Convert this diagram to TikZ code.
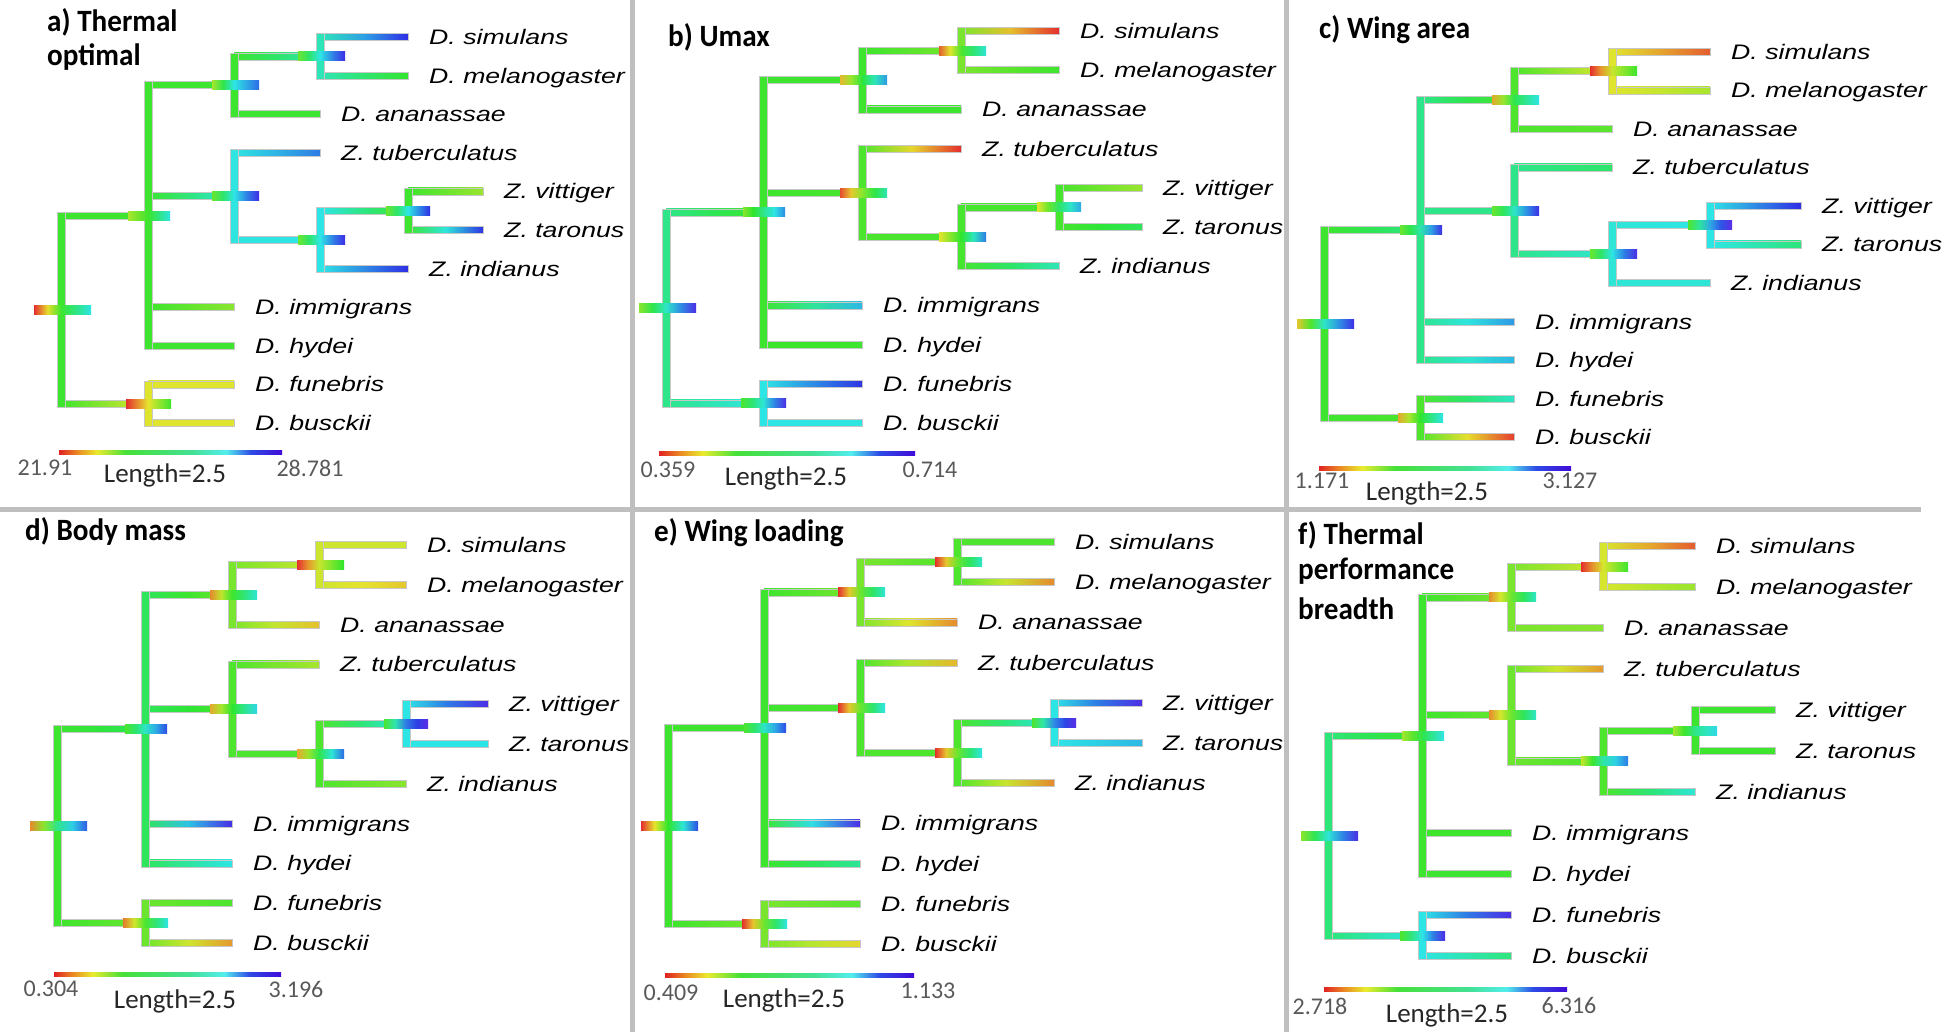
\documentclass[tikz,border=0pt]{standalone}
\usepackage{fontspec}
\usetikzlibrary{calc}
\selectcolormodel{rgb}
\newfontfamily\taxonfont[FakeStretch=1.27]{Liberation Sans}
\newfontfamily\labelfont{Carlito}
\newfontfamily\titlefont[FakeStretch=0.94]{Carlito}

% jet colours of the scale bars
\definecolor{j0}{hsb}{0,.85,.88}
\definecolor{j30}{hsb}{.083,.85,.92}
\definecolor{j60}{hsb}{.167,.8,.92}
\definecolor{j115}{hsb}{.32,.75,.88}
\definecolor{j150}{hsb}{.42,.7,.88}
\definecolor{j180}{hsb}{.5,.65,.93}
\definecolor{j230}{hsb}{.64,.8,.9}
\definecolor{j255}{hsb}{.71,.95,.85}
\pgfdeclarehorizontalshading{jet}{100bp}{color(0bp)=(j0); color(25bp)=(j0); color(29bp)=(j30); color(33.5bp)=(j60); color(40bp)=(j115); color(55bp)=(j150); color(62.5bp)=(j180); color(68bp)=(j230); color(75bp)=(j255); color(100bp)=(j255)}

\tikzset{
  branch/.style={draw=black!22, line width=0.5pt},
  cibar/.style={},
  sep/.style={draw=black!25, line width=5pt},
  scalebar/.style={shading=jet},
  taxon/.style={anchor=base west, inner sep=0pt, font=\taxonfont\itshape\fontsize{21}{25}\selectfont},
  paneltitle/.style={anchor=base west, inner sep=0pt, font=\titlefont\bfseries\fontsize{31}{36}\selectfont},
  scaleno/.style={inner sep=0pt, text=black!65, font=\labelfont\fontsize{24}{28}\selectfont},
  scalelen/.style={inner sep=0pt, text=black!85, font=\labelfont\fontsize{27}{30}\selectfont}
}

% rectangle shaded from hue #2 to hue #3 (degrees) through the middle hue
\newcommand{\hueshade}[5][branch]{%
  \pgfmathsetmacro\hueL{#2}\pgfmathsetmacro\hueR{#3}%
  \pgfmathsetmacro\hueL{\hueL/360}\pgfmathsetmacro\hueR{\hueR/360}%
  \pgfmathsetmacro\hueM{(\hueL+\hueR)/2}%
  \definecolor{hueL}{hsb}{\hueL,.8,.9}\definecolor{hueM}{hsb}{\hueM,.8,.9}\definecolor{hueR}{hsb}{\hueR,.8,.9}%
  \shade[#1, left color=hueL, right color=hueR, middle color=hueM] #4 rectangle #5;}
% horizontal branch from parent #1 to child #2
\newcommand{\hbranch}[4]{%
  \hueshade{#3}{#4}{($(#1 |- #2)+(0,-3.5)$)}{($(#2)+(0,3.5)$)}}
% vertical bar of node #1 between children #2 and #3
\newcommand{\vbranch}[4]{%
  \pgfmathsetmacro\hueL{#4}\pgfmathsetmacro\hueL{\hueL/360}\definecolor{hueL}{hsb}{\hueL,.8,.9}%
  \filldraw[branch, fill=hueL] ($(#1 |- #2)+(-4,-3.5)$) rectangle ($(#1 |- #3)+(4,3.5)$);}
% interval bar on a node
\newcommand{\cimark}[6]{%
  \hueshade[cibar]{#2}{#3}{($(#1)+(-#5,-4.5)$)}{($(#1)+(0,4.5)$)}
  \hueshade[cibar]{#3}{#4}{($(#1)+(0,-4.5)$)}{($(#1)+(#6,4.5)$)}}

% one tree; uses \lv (x levels), \yo, \dy (tips), \nodeh, \tiph, \markh (hues)
\newcommand{\phylo}[1]{%
  \foreach \tp/\lev [count=\i from 0] in {sim/4,mel/4,ana/3,tub/3,vit/5,tar/5,ind/4,imm/2,hyd/2,fun/2,bus/2}
    {\pgfmathsetmacro\xt{\lv[\lev]}\coordinate (#1-\tp) at (\xt,{\yo+\i*\dy});}
  \pgfmathsetmacro\xa{\lv[0]}\pgfmathsetmacro\xb{\lv[1]}\pgfmathsetmacro\xc{\lv[2]}
  \pgfmathsetmacro\xd{\lv[3]}\pgfmathsetmacro\xe{\lv[4]}
  \coordinate (#1-S) at (\xd,{\yo+0.5*\dy});
  \coordinate (#1-M) at (\xc,{\yo+1.25*\dy});
  \coordinate (#1-V) at (\xe,{\yo+4.5*\dy});
  \coordinate (#1-U) at (\xd,{\yo+5.25*\dy});
  \coordinate (#1-Z) at (\xc,{\yo+4.125*\dy});
  \coordinate (#1-B) at (\xb,{\yo+4.625*\dy});
  \coordinate (#1-F) at (\xb,{\yo+9.5*\dy});
  \coordinate (#1-R) at (\xa,{\yo+7.0625*\dy});
  % branches
  \foreach \pn/\cn/\hi/\hj in {R/B/0/1,R/F/0/7,B/M/1/2,B/Z/1/4,M/S/2/3,Z/U/4/5,U/V/5/6}
    {\hbranch{#1-\pn}{#1-\cn}{\nodeh[\hi]}{\nodeh[\hj]}}
  \foreach \pn/\cn/\hi/\hj in {S/sim/3/0,S/mel/3/1,M/ana/2/2,Z/tub/4/3,V/vit/6/4,V/tar/6/5,U/ind/5/6,B/imm/1/7,B/hyd/1/8,F/fun/7/9,F/bus/7/10}
    {\hbranch{#1-\pn}{#1-\cn}{\nodeh[\hi]}{\tiph[\hj]}}
  \foreach \nd/\na/\nb/\hi in {R/B/F/0,B/M/hyd/1,M/S/ana/2,S/sim/mel/3,Z/tub/U/4,U/V/ind/5,V/vit/tar/6,F/fun/bus/7}
    {\vbranch{#1-\nd}{#1-\na}{#1-\nb}{\nodeh[\hi]}}
  % node bars
  \foreach \nd/\ka/\kb/\kc/\el/\er in {R/0/1/2/27/30,B/3/4/5/20/22,M/6/7/8/22/25,S/9/10/11/22/25,Z/12/13/14/22/25,U/15/16/17/22/25,V/18/19/20/22/22,F/21/22/23/22/23}
    {\cimark{#1-\nd}{\markh[\ka]}{\markh[\kb]}{\markh[\kc]}{\el}{\er}}
  % species
  \foreach \tp/\txt in {sim/D. simulans,mel/D. melanogaster,ana/D. ananassae,tub/Z. tuberculatus,vit/Z. vittiger,tar/Z. taronus,ind/Z. indianus,imm/D. immigrans,hyd/D. hydei,fun/D. funebris,bus/D. busckii}
    {\node[taxon] (#1-\tp-lab) at ($(#1-\tp)+(21,7.5)$) {\txt};}
}

\begin{document}
\begin{tikzpicture}[x=1pt, y=-1pt]
\fill[white] (0,0) rectangle (1959,1032);
\useasboundingbox (0,0) rectangle (1959,1032);

% panel frames
\draw[sep] (632,0) -- (632,1032);
\draw[sep] (1286,0) -- (1286,1032);
\draw[sep] (0,509) -- (1921,509);

% a) thermal optimal
\def\lv{{61,148,234,320,408,483}}\def\yo{37}\def\dy{38.6}
\def\nodeh{{115,115,115,165,178,180,115,62}}
\def\tiph{{240,118,115,215,85,238,240,90,115,62,62}}
\def\markh{{0,115,180,80,115,180,80,180,220,100,180,245,100,180,245,100,180,245,100,180,240,0,60,115}}
\phylo{a}
\node[paneltitle] (a-title) at (47,32) {a) Thermal};
\node[paneltitle] (a-title2) at (47,66) {optimal};
\shade[scalebar] (59,450) rectangle (282,454);
\node[scaleno] (a-min) at (45,468) {21.91};
\node[scalelen] (a-len) at (165,475) {Length=2.5};
\node[scaleno] (a-max) at (310,468) {28.781};

% b) Umax
\def\lv{{666,763,862,961,1059,1142}}\def\yo{31}\def\dy{39.2}
\def\nodeh{{150,115,115,95,110,112,112,180}}
\def\tiph{{0,115,115,0,85,135,165,195,115,238,178}}
\def\markh{{90,170,250,90,150,210,45,125,205,15,110,175,10,90,165,60,120,215,60,140,200,110,175,250}}
\phylo{b}
\node[paneltitle] (b-title) at (668,47) {b) Umax};
\shade[scalebar] (659,451) rectangle (915,455);
\node[scaleno] (b-min) at (668,470) {0.359};
\node[scalelen] (b-len) at (786,478) {Length=2.5};
\node[scaleno] (b-max) at (930,470) {0.714};

% c) wing area
\def\lv{{1324,1420,1514,1612,1710,1801}}\def\yo{52}\def\dy{38.5}
\def\nodeh{{115,150,110,62,150,175,180,110}}
\def\tiph{{15,80,105,140,240,145,175,205,195,170,5}}
\def\markh{{50,170,245,100,160,245,40,130,180,0,70,115,100,170,245,100,180,250,110,200,255,40,120,180}}
\phylo{c}
\node[paneltitle] (c-title) at (1319,39) {c) Wing area};
\shade[scalebar] (1319,466) rectangle (1571,470);
\node[scaleno] (c-min) at (1322,481) {1.171};
\node[scalelen] (c-len) at (1427,493) {Length=2.5};
\node[scaleno] (c-max) at (1570,481) {3.127};

% d) body mass
\def\lv{{57,145,232,319,406,488}}\def\yo{545}\def\dy{39.8}
\def\nodeh{{115,135,95,68,110,110,180,100}}
\def\tiph{{68,50,48,80,250,180,90,248,180,110,35}}
\def\markh{{30,150,225,110,170,230,30,115,175,0,70,120,40,120,185,40,130,220,110,215,255,25,110,180}}
\phylo{d}
\node[paneltitle] (d-title) at (25,540) {d) Body mass};
\shade[scalebar] (54,972) rectangle (281,976);
\node[scaleno] (d-min) at (51,989) {0.304};
\node[scalelen] (d-len) at (175,1001) {Length=2.5};
\node[scaleno] (d-max) at (296,989) {3.196};

% e) wing loading
\def\lv{{668,764,860,957,1054,1142}}\def\yo{542}\def\dy{40.2}
\def\nodeh{{115,115,95,110,110,110,180,95}}
\def\tiph{{110,30,30,45,250,195,30,250,155,105,55}}
\def\markh{{0,120,230,110,170,230,0,100,175,0,100,170,0,100,180,0,100,180,110,210,255,0,100,180}}
\phylo{e}
\node[paneltitle] (e-title) at (654,541) {e) Wing loading};
\shade[scalebar] (665,973) rectangle (914,977);
\node[scaleno] (e-min) at (671,993) {0.409};
\node[scalelen] (e-len) at (784,1000) {Length=2.5};
\node[scaleno] (e-max) at (928,991) {1.133};

% f) thermal performance breadth
\def\lv{{1328,1422,1511,1603,1695,1775}}\def\yo{546}\def\dy{41}
\def\nodeh{{145,115,95,65,100,110,115,180}}
\def\tiph{{15,85,90,35,115,115,175,115,115,250,145}}
\def\markh{{90,175,250,80,130,180,30,100,170,0,65,115,30,100,170,70,160,215,80,150,185,110,180,250}}
\phylo{f}
\node[paneltitle] (f-title) at (1298,544) {f) Thermal};
\node[paneltitle] (f-title2) at (1298,579) {performance};
\node[paneltitle] (f-title3) at (1298,619) {breadth};
\shade[scalebar] (1324,987) rectangle (1567,991);
\node[scaleno] (f-min) at (1320,1006) {2.718};
\node[scalelen] (f-len) at (1447,1015) {Length=2.5};
\node[scaleno] (f-max) at (1569,1005) {6.316};
\end{tikzpicture}
\end{document}
